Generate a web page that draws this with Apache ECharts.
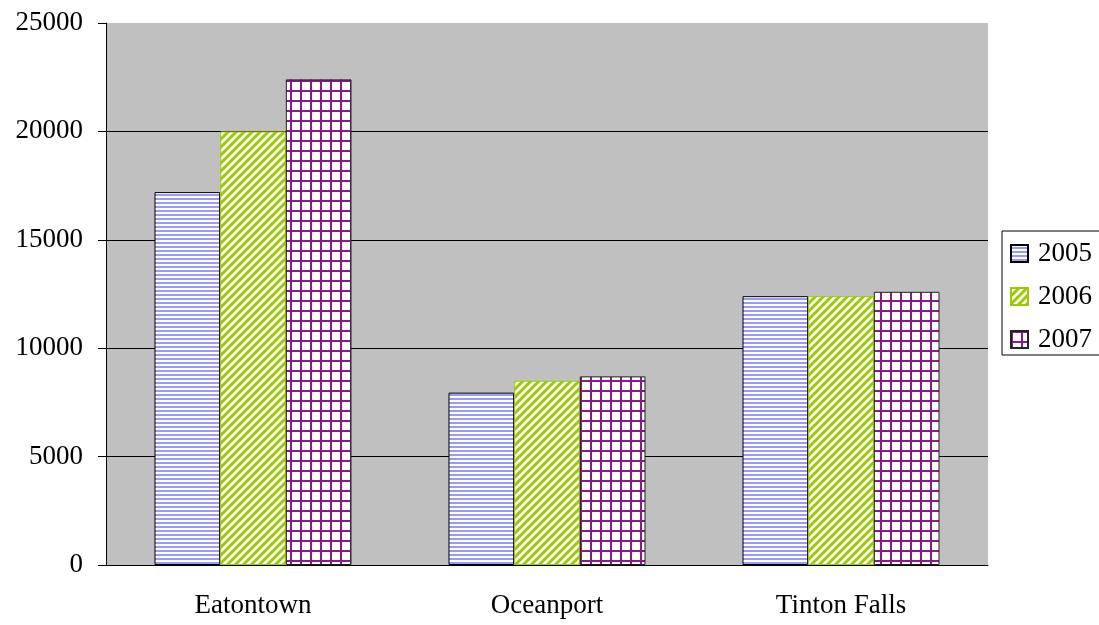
<!DOCTYPE html>
<html>
<head>
<meta charset="utf-8">
<script src="https://cdn.jsdelivr.net/npm/echarts@6/dist/echarts.min.js"></script>
<style>
  html, body { margin: 0; padding: 0; background: #ffffff; }
  #chart { width: 1099px; height: 625px; }
</style>
</head>
<body>
<div id="chart"></div>
<script>
// Towns on the category axis and yearly values per town
const towns = ['Eatontown', 'Oceanport', 'Tinton Falls'];
const years = ['2005', '2006', '2007'];
const values2005 = [17200, 7950, 12400];
const values2006 = [20000, 8500, 12400];
const values2007 = [22400, 8700, 12600];
const yTicks = [0, 5000, 10000, 15000, 20000, 25000];

// Fill patterns for the three years
function horizontalStripes() {
  const c = document.createElement('canvas');
  c.width = 4; c.height = 4;
  const g = c.getContext('2d');
  g.fillStyle = '#ffffff'; g.fillRect(0, 0, 4, 4);
  g.fillStyle = '#9999ff'; g.fillRect(0, 2, 4, 2);
  return c;
}
function diagonalStripes() {
  const s = 8;
  const c = document.createElement('canvas');
  c.width = s; c.height = s;
  const g = c.getContext('2d');
  g.fillStyle = '#ffffff'; g.fillRect(0, 0, s, s);
  g.strokeStyle = '#99cc00'; g.lineWidth = 3;
  g.beginPath();
  g.moveTo(-s, 2 * s); g.lineTo(2 * s, -s);
  g.moveTo(-s, s); g.lineTo(s, -s);
  g.moveTo(0, 2 * s); g.lineTo(2 * s, 0);
  g.stroke();
  return c;
}
function gridCells() {
  const s = 10;
  const c = document.createElement('canvas');
  c.width = s; c.height = s;
  const g = c.getContext('2d');
  g.fillStyle = '#ffffff'; g.fillRect(0, 0, s, s);
  g.fillStyle = '#8a1a8a';
  g.fillRect(0, 0, s, 2);
  g.fillRect(0, 0, 2, s);
  return c;
}

const fills = [
  { image: horizontalStripes(), repeat: 'repeat' },
  { image: diagonalStripes(), repeat: 'repeat' },
  { image: gridCells(), repeat: 'repeat' }
];
const borders = ['#000000', '#99cc00', '#222222'];
const seriesValues = [values2005, values2006, values2007];

const font = '"Liberation Serif", "Times New Roman", serif';

const chart = echarts.init(document.getElementById('chart'), null, { renderer: 'canvas' });
chart.setOption({
  animation: false,
  backgroundColor: '#ffffff',
  textStyle: { fontFamily: font },
  grid: {
    left: 106, right: 111, top: 23, bottom: 60,
    show: true, backgroundColor: '#c0c0c0', borderWidth: 0
  },
  legend: {
    orient: 'vertical',
    left: 1002, top: 231,
    padding: [9, 10, 2, 8],
    icon: 'rect',
    itemWidth: 17, itemHeight: 17,
    itemGap: 16,
    borderColor: '#000000', borderWidth: 1,
    backgroundColor: '#ffffff',
    textStyle: { fontFamily: font, fontSize: 27, color: '#000000', lineHeight: 27, padding: [0, 0, 0, 5] },
    data: years
  },
  xAxis: {
    type: 'category',
    data: towns,
    axisLine: { lineStyle: { color: '#000000', width: 1 } },
    axisTick: { length: 8, lineStyle: { color: '#000000' } },
    axisLabel: { fontFamily: font, fontSize: 27, color: '#000000', margin: 27 }
  },
  yAxis: {
    type: 'value',
    min: yTicks[0], max: yTicks[yTicks.length - 1], interval: yTicks[1] - yTicks[0],
    axisLine: { show: true, lineStyle: { color: '#000000', width: 1 } },
    axisTick: { show: true, length: 8, lineStyle: { color: '#000000' } },
    axisLabel: { fontFamily: font, fontSize: 27, color: '#000000', margin: 23, formatter: v => String(v) },
    splitLine: {
      show: true,
      lineStyle: { color: ['#000000', '#000000', '#000000', '#000000', '#000000', 'rgba(0,0,0,0)'], width: 1 }
    }
  },
  series: years.map((y, i) => ({
    name: y,
    type: 'bar',
    data: seriesValues[i],
    barGap: '0%',
    barCategoryGap: '33%',
    itemStyle: { color: fills[i], borderColor: borders[i], borderWidth: 1 }
  }))
});
</script>
</body>
</html>
